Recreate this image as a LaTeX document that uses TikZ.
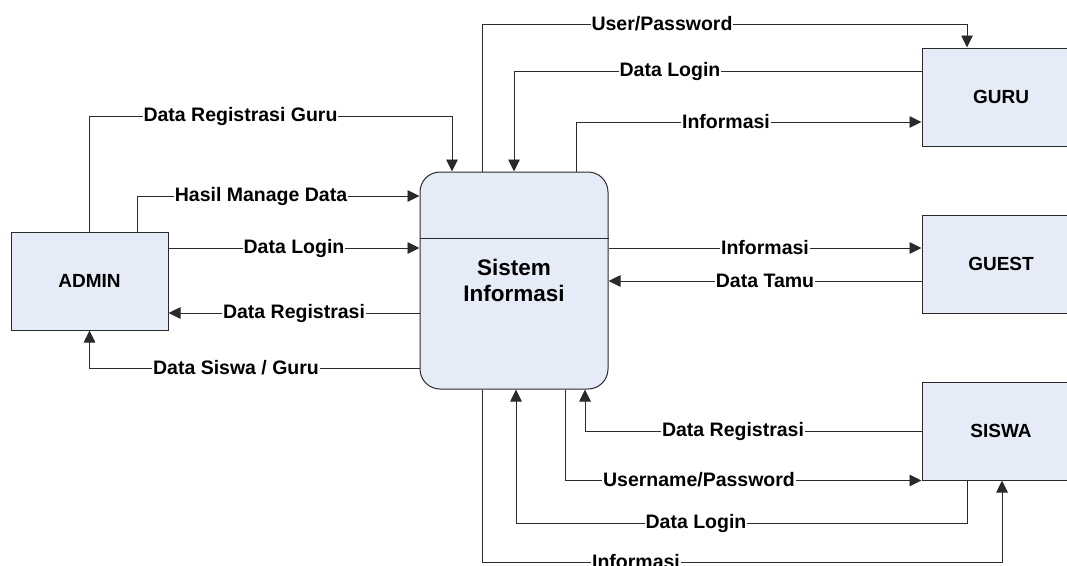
\documentclass[tikz,border=0pt]{standalone}
\usepackage{fontspec}
\setmainfont{Liberation Sans}
\usetikzlibrary{arrows.meta,calc}
\definecolor{boxfill}{HTML}{E6ECF7}
\definecolor{linec}{HTML}{2A2A2A}
\tikzset{
  entity/.style={draw=linec, fill=boxfill, line width=1pt, minimum width=158pt, minimum height=98pt, inner sep=0pt, font=\fontsize{19}{22}\selectfont\bfseries},
  procbox/.style={draw=linec, fill=boxfill, line width=1pt, rounded corners=20pt, minimum width=188pt, minimum height=217pt, inner sep=0pt, align=center, font=\fontsize{22.5}{26}\selectfont\bfseries},
  flow/.style={draw=linec, line width=0.9pt, -{Triangle[length=12pt,width=11.5pt]}},
  link/.style={draw=linec, line width=0.9pt},
  lbl/.style={fill=white, inner sep=1pt, font=\fontsize{19.5}{22}\selectfont\bfseries}
}
\begin{document}
\begin{tikzpicture}[x=1pt,y=-1pt]
\path[use as bounding box] (0,0) rectangle (1067,565);
% nodes
\node[entity, minimum width=157pt] (admin) at (89.5,281) {ADMIN};
\node[procbox] (proc) at (514,280.5) {Sistem\\Informasi};
\draw[link] (proc.west |- 0,238) -- (proc.east |- 0,238);
\node[entity] (guru) at (1001,97) {GURU};
\node[entity] (guest) at (1001,264) {GUEST};
\node[entity] (siswa) at (1001,431) {SISWA};

% admin flows
\draw[flow] (admin.north) -- (89.5,116) -- (452,116) -- (452,0 |- proc.north);
\draw[flow] (137,0 |- admin.north) |- (proc.west |- 0,196);
\draw[flow] (admin.east |- 0,248) -- (proc.west |- 0,248);
\draw[flow] (proc.west |- 0,313) -- (admin.east |- 0,313);
\draw[flow] (proc.west |- 0,368) -| (admin.south);

% guru flows
\draw[flow] (482,0 |- proc.north) -- (482,24) -- (967,24) -- (967,0 |- guru.north);
\draw[flow] (guru.west |- 0,71) -| (514,0 |- proc.north);
\draw[flow] (576,0 |- proc.north) |- (guru.west |- 0,122);

% guest flows
\draw[flow] (proc.east |- 0,248) -- (guest.west |- 0,248);
\draw[flow] (guest.west |- 0,281) -- (proc.east |- 0,281);

% siswa flows
\draw[flow] (siswa.west |- 0,431) -| (585,0 |- proc.south);
\draw[flow] (565,0 |- proc.south) |- (siswa.south west);
\draw[flow] (967,0 |- siswa.south) -- (967,523) -- (516,523) -- (516,0 |- proc.south);
\draw[flow] (482,0 |- proc.south) -- (482,562) -- (1002,562) -- (1002,0 |- siswa.south);

% labels
\node[lbl] (l1) at (240.5,116) {Data Registrasi Guru};
\node[lbl] (l2) at (261,196) {Hasil Manage Data};
\node[lbl] (l3) at (294,248) {Data Login};
\node[lbl] (l4) at (294,313) {Data Registrasi};
\node[lbl] (l5) at (236,368) {Data Siswa / Guru};
\node[lbl] (l6) at (662,24) {User/Password};
\node[lbl] (l7) at (670,71) {Data Login};
\node[lbl] (l8) at (726,122) {Informasi};
\node[lbl] (l9) at (765,248) {Informasi};
\node[lbl] (l10) at (765,281) {Data Tamu};
\node[lbl] (l11) at (733,431) {Data Registrasi};
\node[lbl] (l12) at (699,480) {Username/Password};
\node[lbl] (l13) at (696,523) {Data Login};
\node[lbl] (l14) at (636,562) {Informasi};
\end{tikzpicture}
\end{document}
